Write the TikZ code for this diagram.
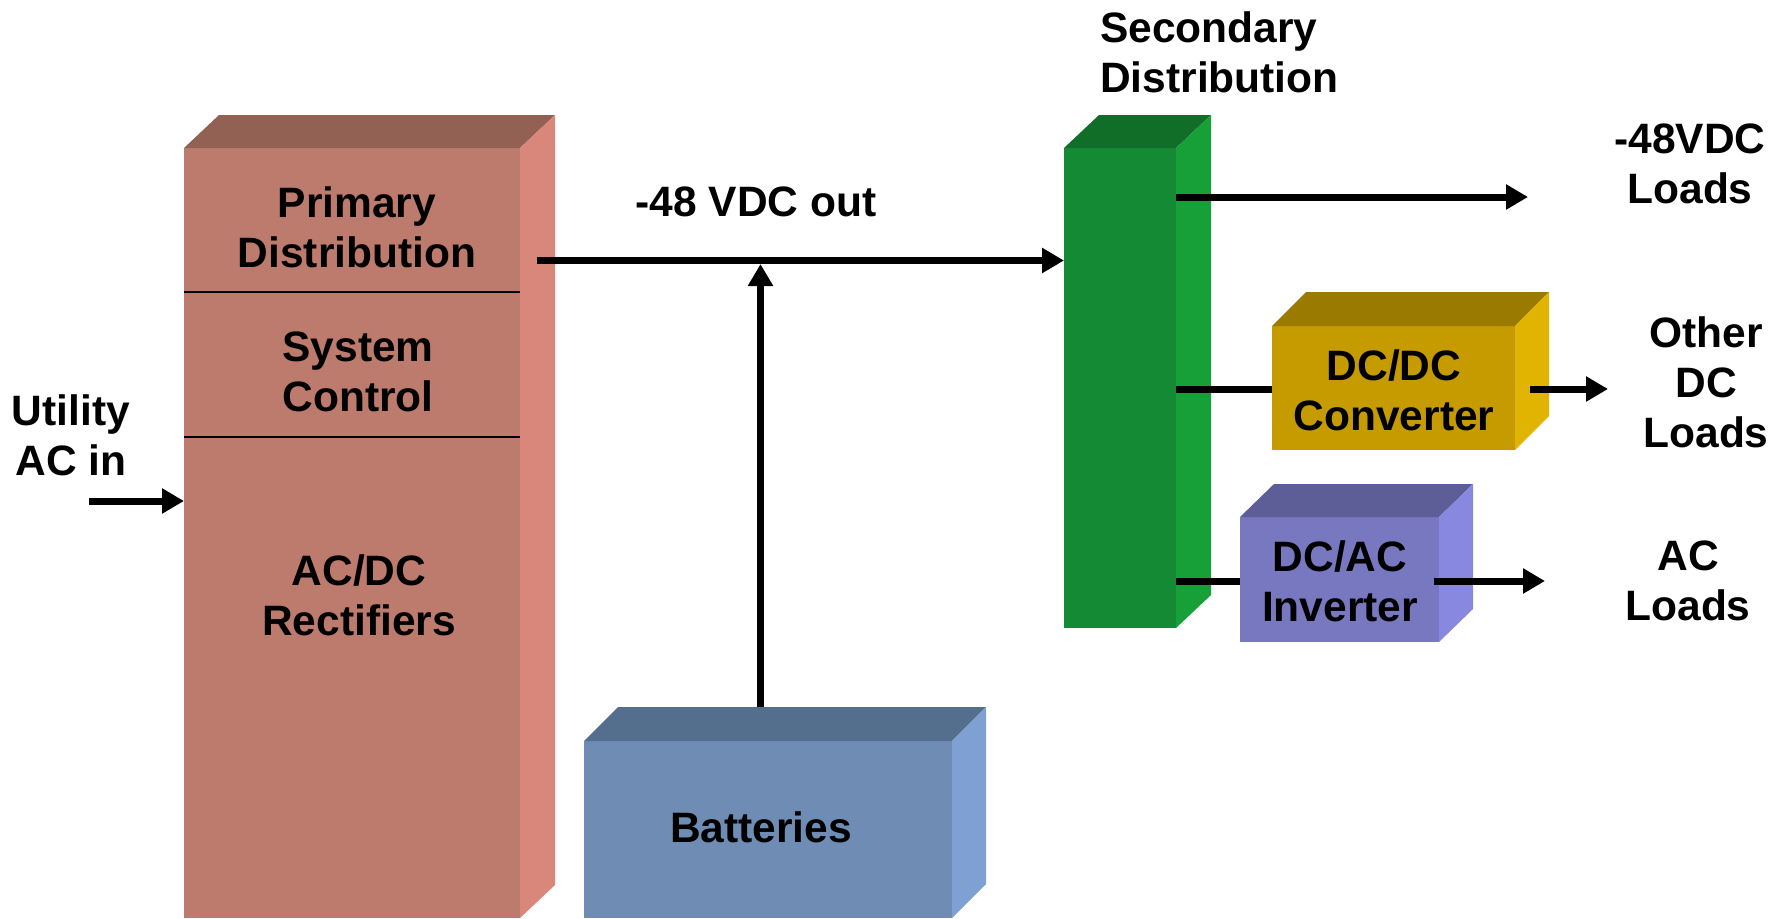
\documentclass[tikz,border=0pt]{standalone}
\usepackage{fontspec}
\setmainfont{Liberation Sans}
\usetikzlibrary{arrows.meta}
\definecolor{primF}{HTML}{BD7B6D}
\definecolor{primT}{HTML}{936054}
\definecolor{primS}{HTML}{D9877A}
\definecolor{batF}{HTML}{6F8CB5}
\definecolor{batT}{HTML}{546E8D}
\definecolor{batS}{HTML}{7FA0D2}
\definecolor{secF}{HTML}{158A34}
\definecolor{secT}{HTML}{116E28}
\definecolor{secS}{HTML}{18A038}
\definecolor{dcF}{HTML}{C59B00}
\definecolor{dcT}{HTML}{9A7B00}
\definecolor{dcS}{HTML}{E0B400}
\definecolor{acF}{HTML}{7878C0}
\definecolor{acT}{HTML}{5D5D98}
\definecolor{acS}{HTML}{8888E0}
\begin{document}
\begin{tikzpicture}[x=1pt,y=-1pt,
  txt/.style={font=\fontsize{42.5}{50}\selectfont\bfseries, align=center, inner sep=0pt},
  face/.style={draw=none, inner sep=0pt, outer sep=0pt},
  conn/.style={line width=7pt, draw=black},
  arr/.style={conn, -{Triangle[length=22pt,width=24pt]}},
  divider/.style={line width=2pt, draw=black}
]
\useasboundingbox (0,0) rectangle (1782,918);

% ---------- Primary block ----------
\node[face, fill=primF, minimum width=336pt, minimum height=770pt] (prim) at (352,533) {};
\fill[primT] (prim.north west) -- ++(35,-33) -- ++(336,0) -- (prim.north east) -- cycle;
\fill[primS] (prim.north east) -- ++(35,-33) -- ++(0,770) -- (prim.south east) -- cycle;
\coordinate (d1) at (0,292);
\coordinate (d2) at (0,437);
\draw[divider] (prim.west |- d1) -- (prim.east |- d1);
\draw[divider] (prim.west |- d2) -- (prim.east |- d2);
\node[txt] (ptext) at (357,227) {Primary\\Distribution};
\node[txt] (stext) at (358,372) {System\\Control};
\node[txt] (rtext) at (359,595) {AC/DC\\Rectifiers};

% ---------- Batteries ----------
\node[face, fill=batF, minimum width=368pt, minimum height=177pt] (bat) at (768,829.5) {};
\fill[batT] (bat.north west) -- ++(34,-34) -- ++(368,0) -- (bat.north east) -- cycle;
\fill[batS] (bat.north east) -- ++(34,-34) -- ++(0,177) -- (bat.south east) -- cycle;
\node[txt] (battext) at (761,827) {Batteries};

% ---------- Secondary distribution ----------
\node[face, fill=secF, minimum width=112pt, minimum height=480pt] (sec) at (1120,388) {};
\fill[secT] (sec.north west) -- ++(35,-33) -- ++(112,0) -- (sec.north east) -- cycle;
\fill[secS] (sec.north east) -- ++(35,-33) -- ++(0,480) -- (sec.south east) -- cycle;
\node[txt, align=left, anchor=west] (sectext) at (1100,52) {Secondary\\Distribution};

% ---------- DC/DC converter ----------
\node[face, fill=dcF, minimum width=243pt, minimum height=124pt] (dcdc) at (1393.5,388) {};
\fill[dcT] (dcdc.north west) -- ++(34,-34) -- ++(243,0) -- (dcdc.north east) -- cycle;
\fill[dcS] (dcdc.north east) -- ++(34,-34) -- ++(0,124) -- (dcdc.south east) -- cycle;
\node[txt] (dcdctext) at (1394,390) {DC/DC\\Converter};

% ---------- DC/AC inverter ----------
\node[face, fill=acF, minimum width=199pt, minimum height=125pt] (dcac) at (1339.5,579.5) {};
\fill[acT] (dcac.north west) -- ++(34,-33) -- ++(199,0) -- (dcac.north east) -- cycle;
\fill[acS] (dcac.north east) -- ++(34,-33) -- ++(0,125) -- (dcac.south east) -- cycle;
\node[txt] (dcactext) at (1340,581) {DC/AC\\Inverter};

% ---------- Labels ----------
\node[txt] (util) at (71,435) {Utility\\AC in};
\node[txt] (vout) at (756,202) {-48 VDC out};
\node[txt] (l48) at (1690,164) {-48VDC\\Loads};
\node[txt] (lother) at (1706,382) {Other\\DC\\Loads};
\node[txt] (lac) at (1688,581) {AC\\Loads};

% ---------- Connectors ----------
\coordinate (u0) at (89,501);
\draw[arr] (u0) -- (u0 -| prim.west);

\coordinate (p0) at (537,260.5);
\draw[arr] (p0) -- (p0 -| sec.west);

\coordinate (bj) at (760.5,264);
\coordinate (bb) at (760.5,707);
\draw[arr] (bb) -- (bj);

\coordinate (o1) at (1528,197);
\draw[arr] (o1 -| sec.east) -- (o1);

\coordinate (o2s) at (1530,389);
\coordinate (o2) at (1608,389);
\draw[conn] (o2s -| sec.east) -- (o2s -| dcdc.west);
\draw[arr] (o2s) -- (o2);

\coordinate (o3s) at (1434,581);
\coordinate (o3) at (1545,581);
\draw[conn] (o3s -| sec.east) -- (o3s -| dcac.west);
\draw[arr] (o3s) -- (o3);
\end{tikzpicture}
\end{document}
